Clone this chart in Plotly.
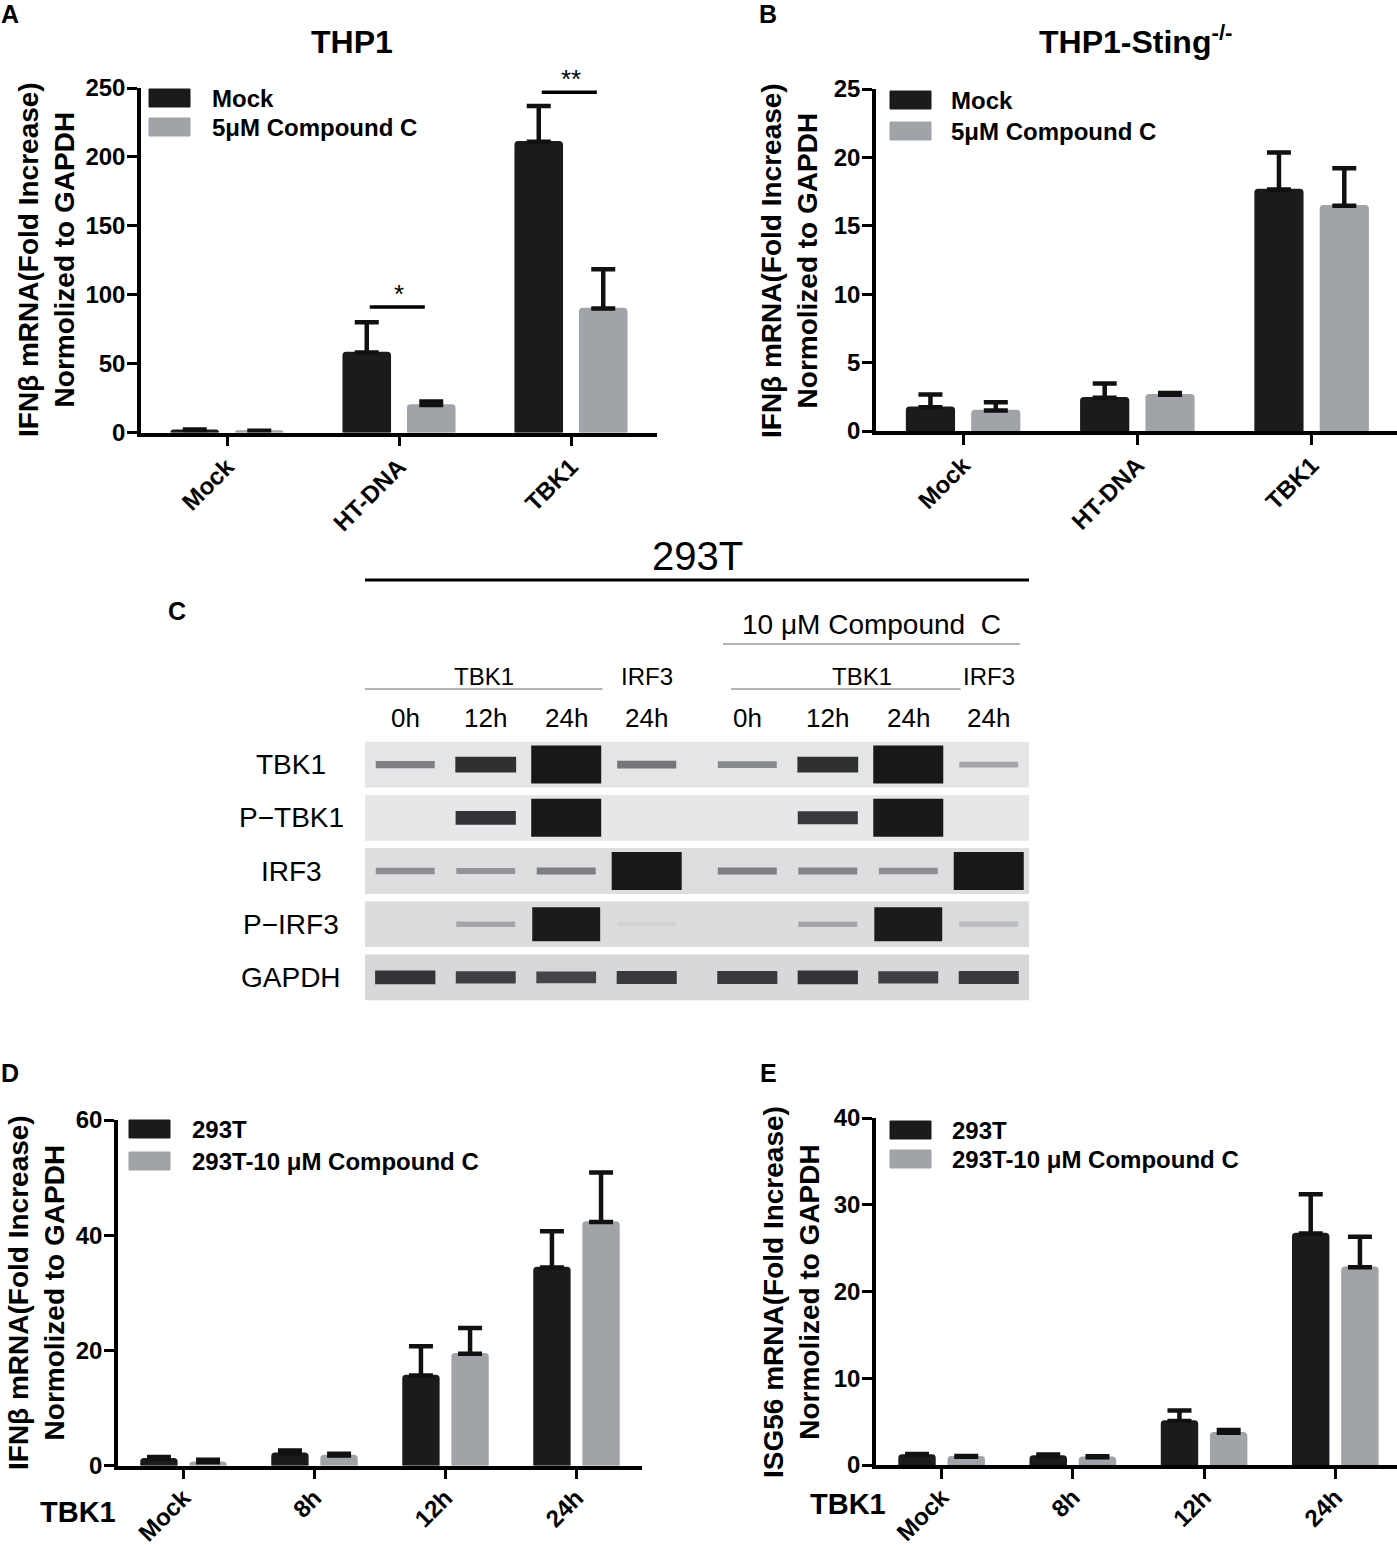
import plotly.graph_objects as go

W, H = 1397, 1545
FONT = "Liberation Sans, Arial, sans-serif"
BLACK = "#1b1b1d"
GREY = "#a0a3a8"

# ---- panels A / B : THP1 and THP1-Sting-/- cells
thp1_groups = ["Mock", "HT-DNA", "TBK1"]
series_ab = ["Mock", "5μM Compound C"]

a_mock = [1.7, 58, 211]
a_mock_err = [0.4, 22, 26]
a_cc = [1.0, 20, 90]
a_cc_err = [0.3, 2.5, 28.5]
a_sig_groups = [1, 2]          # index in thp1_groups
a_sig_height = [91, 247]
a_sig_label = ["*", "**"]

b_mock = [1.73, 2.43, 17.65]
b_mock_err = [0.94, 1.04, 2.7]
b_cc = [1.49, 2.65, 16.46]
b_cc_err = [0.62, 0.12, 2.74]

# ---- panels D / E : 293T time course
time_groups = ["Mock", "8h", "12h", "24h"]
series_de = ["293T", "293T-10 μM Compound C"]

d_ctrl = [1.16, 2.14, 15.65, 34.4]
d_ctrl_err = [0.3, 0.46, 5.05, 6.3]
d_cc = [0.58, 1.74, 19.4, 42.3]
d_cc_err = [0.41, 0.29, 4.5, 8.6]

e_ctrl = [1.15, 1.04, 5.08, 26.7]
e_ctrl_err = [0.12, 0.16, 1.19, 4.5]
e_cc = [0.96, 0.9, 3.73, 22.8]
e_cc_err = [0.08, 0.1, 0.31, 3.5]

# ---- panel C : western blot, relative band intensity per lane (0-1)
blot_lanes = ["0h", "12h", "24h", "24h", "0h", "12h", "24h", "24h"]
blot_treated = [False, False, False, False, True, True, True, True]
blot_rows = ["TBK1", "P−TBK1", "IRF3", "P−IRF3", "GAPDH"]
band_tbk1 = [0.35, 0.65, 1.0, 0.38, 0.32, 0.65, 1.0, 0.22]
band_ptbk1 = [0.0, 0.6, 1.0, 0.0, 0.0, 0.58, 1.0, 0.0]
band_irf3 = [0.3, 0.28, 0.35, 1.0, 0.35, 0.33, 0.3, 1.0]
band_pirf3 = [0.0, 0.22, 0.95, 0.06, 0.0, 0.22, 0.95, 0.14]
band_gapdh = [0.6, 0.56, 0.54, 0.58, 0.58, 0.6, 0.56, 0.58]
blot_bands = [band_tbk1, band_ptbk1, band_irf3, band_pirf3, band_gapdh]
lane_groups = [("TBK1", 0, 2), ("IRF3", 3, 3), ("TBK1", 4, 6), ("IRF3", 7, 7)]

# small gap between the untreated and the Compound C half of the gel
TREAT_GAP = 0.25
lane_x = [i + (TREAT_GAP if t else 0) for i, t in enumerate(blot_treated)]


def px(x):
    return x / W


def py(y):
    return 1 - y / H


def band_colour(v):
    # film darkness: light grey background -> near black when saturated
    stops = [(0.0, (226, 228, 230)), (0.3, (140, 142, 146)), (0.6, (50, 51, 54)), (1.0, (24, 24, 26))]
    for (v0, c0), (v1, c1) in zip(stops, stops[1:]):
        if v <= v1:
            t = (v - v0) / (v1 - v0)
            rgb = [round(a + (b - a) * t) for a, b in zip(c0, c1)]
            return "rgb(%d,%d,%d)" % tuple(rgb)
    return "rgb(24,24,26)"


fig = go.Figure()


def add_bars(ax, cats, vals, errs, name, color):
    fig.add_trace(go.Bar(
        x=cats, y=vals, name=name, xaxis="x" + ax, yaxis="y" + ax,
        marker=dict(color=color, line=dict(color=color, width=1.5), cornerradius=3),
        error_y=dict(type="data", array=errs, arrayminus=[0] * len(errs),
                     symmetric=False, color="#111111", thickness=4.5, width=12),
        showlegend=False,
    ))


add_bars("", thp1_groups, a_mock, a_mock_err, series_ab[0], BLACK)
add_bars("", thp1_groups, a_cc, a_cc_err, series_ab[1], GREY)
add_bars("2", thp1_groups, b_mock, b_mock_err, series_ab[0], BLACK)
add_bars("2", thp1_groups, b_cc, b_cc_err, series_ab[1], GREY)
add_bars("4", time_groups, d_ctrl, d_ctrl_err, series_de[0], BLACK)
add_bars("4", time_groups, d_cc, d_cc_err, series_de[1], GREY)
add_bars("5", time_groups, e_ctrl, e_ctrl_err, series_de[0], BLACK)
add_bars("5", time_groups, e_cc, e_cc_err, series_de[1], GREY)

# western blot bands
for r, bands in enumerate(blot_bands):
    lanes = [i for i, v in enumerate(bands) if v > 0]
    vals = [bands[i] for i in lanes]
    cols = [band_colour(v) for v in vals]
    fig.add_trace(go.Scatter(
        x=[lane_x[i] for i in lanes], y=[r] * len(lanes), xaxis="x3", yaxis="y3",
        mode="markers",
        marker=dict(
            symbol="line-ew", opacity=1,
            size=[42 + 8 * v ** 4 for v in vals],
            color=cols,
            line=dict(color=cols, width=[5 + 33 * v ** 2.6 for v in vals]),
        ),
        hoverinfo="skip", showlegend=False,
    ))

axis_common = dict(showline=True, linewidth=3.5, linecolor="black", ticks="outside",
                   ticklen=10, tickwidth=3, tickcolor="black", showgrid=False,
                   zeroline=False, fixedrange=True, automargin=False)
xaxis_common = dict(axis_common, type="category", tickangle=-45, ticklabelstandoff=-3,
                    tickfont=dict(family=FONT, size=24, color="black", weight="bold"))
yaxis_common = dict(axis_common, ticklabelstandoff=-3,
                    tickfont=dict(family=FONT, size=24, color="black", weight="bold"))

fig.update_layout(
    width=W, height=H, margin=dict(l=0, r=0, t=0, b=0, pad=0, autoexpand=False),
    paper_bgcolor="white", plot_bgcolor="white",
    barmode="group", bargap=0.25, bargroupgap=0.27,
    font=dict(family=FONT, color="black"),
    xaxis=dict(xaxis_common, domain=[px(141), px(657)], anchor="y", range=[-0.5, 2.5]),
    yaxis=dict(yaxis_common, domain=[py(432.5), py(88)], anchor="x", range=[0, 250], dtick=50),
    xaxis2=dict(xaxis_common, domain=[px(876), 1.0], anchor="y2", range=[-0.5, 2.49]),
    yaxis2=dict(yaxis_common, domain=[py(431), py(89)], anchor="x2", range=[0, 25], dtick=5),
    xaxis3=dict(domain=[px(365), px(1029)], anchor="y3", range=[-0.5, 7 + TREAT_GAP + 0.5],
                visible=False, fixedrange=True),
    yaxis3=dict(domain=[py(1004), py(738)], anchor="x3", range=[4.5, -0.5], visible=False,
                fixedrange=True),
    xaxis4=dict(xaxis_common, domain=[px(118), px(642)], anchor="y4", range=[-0.5, 3.5],
                ticklabelstandoff=-5),
    yaxis4=dict(yaxis_common, domain=[py(1465.5), py(1120)], anchor="x4", range=[0, 60], dtick=20),
    xaxis5=dict(xaxis_common, domain=[px(876), 1.0], anchor="y5", range=[-0.5, 3.47],
                ticklabelstandoff=-5),
    yaxis5=dict(yaxis_common, domain=[py(1465), py(1118)], anchor="x5", range=[0, 40], dtick=10),
)

shapes = []
annotations = []


def note(text, x, y, size, bold=False, xanchor="center", angle=0, **kw):
    annotations.append(dict(
        text=text, x=x, y=y, xref=kw.pop("xref", "paper"), yref=kw.pop("yref", "paper"),
        xanchor=xanchor, yanchor="middle", showarrow=False, textangle=angle,
        font=dict(family=FONT, size=size, color="black", weight="bold" if bold else "normal"),
        **kw))


# panel letters and titles
for letter, (lx, ly) in zip("ABCDE", [(10, 14), (768, 14), (177, 611), (10, 1073), (768, 1073)]):
    note(letter, px(lx), py(ly), 25, bold=True)
note("THP1", px(352), py(42), 32, bold=True)
note("THP1-Sting<sup>-/-</sup>", px(1136), py(40), 32, bold=True)

# y axis titles
ytitle_ifn = "IFNβ mRNA(Fold Increase)<br>Normolized to GAPDH"
ytitle_isg = "ISG56 mRNA(Fold Increase)<br>Normolized to GAPDH"
note(ytitle_ifn, px(46), py(260), 28, bold=True, angle=-90)
note(ytitle_ifn, px(789), py(260), 28, bold=True, angle=-90)
note(ytitle_ifn, px(36), py(1293), 28, bold=True, angle=-90)
note(ytitle_isg, px(791), py(1292), 28, bold=True, angle=-90)

# TBK1 row label under the D / E time axes
note("TBK1", px(78), py(1512), 29, bold=True)
note("TBK1", px(848), py(1504), 29, bold=True)

# custom legends: (swatch left x, row centre ys, text x, names)
legends = [
    (149, [98, 127], 210, series_ab),
    (890, [100, 131], 949, series_ab),
    (129, [1129, 1161], 190, series_de),
    (890, [1130, 1159], 950, series_de),
]
for sx, rows, tx, names in legends:
    for yc, name, col in zip(rows, names, [BLACK, GREY]):
        shapes.append(dict(type="rect", xref="paper", yref="paper",
                           x0=px(sx), x1=px(sx + 41), y0=py(yc + 9), y1=py(yc - 9),
                           fillcolor=col, line=dict(color=col, width=1)))
        note(name, px(tx), py(yc), 24, bold=True, xanchor="left")

# significance brackets in panel A
for g, h, lab in zip(a_sig_groups, a_sig_height, a_sig_label):
    shapes.append(dict(type="line", xref="x", yref="y", x0=g - 0.17, x1=g + 0.15,
                       y0=h, y1=h, line=dict(color="black", width=3.5)))
    note(lab, thp1_groups[g], h, 26, xref="x", yref="y", yshift=13)

# western blot strips, labels and header
strip_fill = ["#e3e5e7", "#e5e7e9", "#dcdee0", "#dadcde", "#d6d8da"]
x_lo, x_hi = -0.5, lane_x[-1] + 0.5
for r, name in enumerate(blot_rows):
    shapes.append(dict(type="rect", xref="x3", yref="y3", x0=x_lo, x1=x_hi,
                       y0=r - 0.43, y1=r + 0.43, fillcolor=strip_fill[r],
                       line=dict(width=0), layer="below"))
    note(name, px(291), r, 28, yref="y3")

for i, lane in enumerate(blot_lanes):
    note(lane, lane_x[i], py(718), 26, xref="x3")

for label, first, last in lane_groups:
    left = lane_x[first] - (0.2 if blot_treated[first] else 0.5)
    right = lane_x[last] + (0.65 if blot_treated[first] else 0.45)
    if last > first:
        note(label, (left + right) / 2 + (0.2 if blot_treated[first] else 0), py(676), 24, xref="x3")
        shapes.append(dict(type="line", xref="x3", yref="paper", x0=left, x1=right,
                           y0=py(689), y1=py(689), line=dict(color="#9a9a9a", width=1.5)))
    else:
        note(label, lane_x[first], py(676), 24, xref="x3")

treated_lanes = [x for x, t in zip(lane_x, blot_treated) if t]
t0, t1 = treated_lanes[0] - 0.3, treated_lanes[-1] + 0.39
note("10 μM Compound  C", (t0 + t1) / 2, py(624), 28, xref="x3")
shapes.append(dict(type="line", xref="x3", yref="paper", x0=t0, x1=t1,
                   y0=py(644), y1=py(644), line=dict(color="#9a9a9a", width=1.5)))
note("293T", (x_lo + x_hi) / 2, py(556), 40, xref="x3")
shapes.append(dict(type="line", xref="x3", yref="paper", x0=x_lo - 0.02, x1=x_hi,
                   y0=py(580), y1=py(580), line=dict(color="black", width=3)))

fig.update_layout(shapes=shapes, annotations=annotations)

page_fix = ("document.documentElement.style.margin = '0px';"
            "document.body.style.margin = '0px';"
            "document.documentElement.style.overflow = 'hidden';"
            "document.body.style.overflow = 'hidden';")
fig.write_html("out.html", config={"displayModeBar": False}, post_script=page_fix)
